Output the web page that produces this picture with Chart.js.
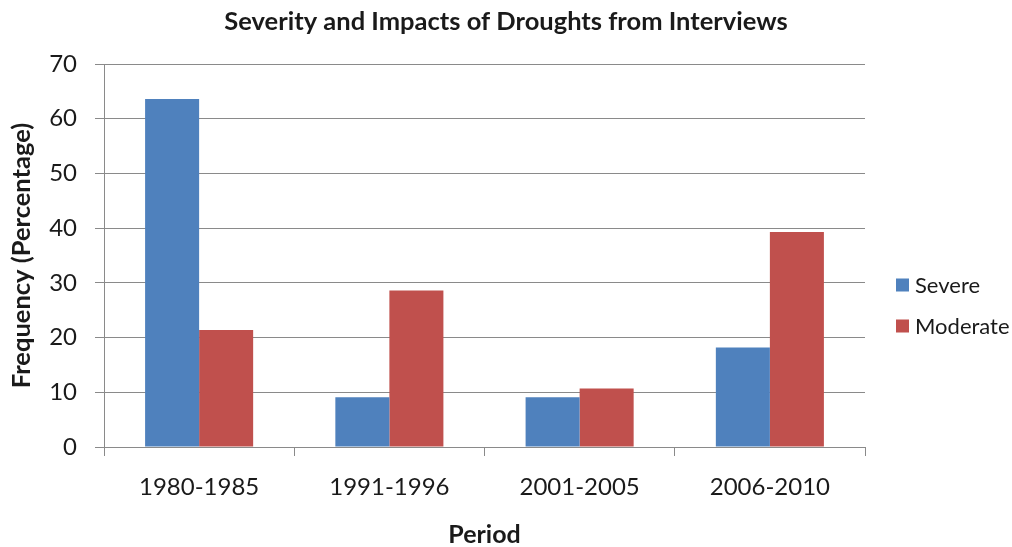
<!DOCTYPE html>
<html>
<head>
<meta charset="utf-8">
<script src="https://cdn.jsdelivr.net/npm/chart.js@4.4.1/dist/chart.umd.min.js"></script>
<style>
  html, body { margin: 0; padding: 0; background: #fff; }
  #wrap { width: 1012px; height: 547px; }
</style>
</head>
<body>
<div id="wrap"><canvas id="c" width="1012" height="547"></canvas></div>
<script>
// Drought periods and the share of interviewees reporting each severity (%)
const periods = ['1980-1985', '1991-1996', '2001-2005', '2006-2010'];
const severe = [63.6, 9.1, 9.1, 18.2];
const moderate = [21.4, 28.6, 10.7, 39.3];
const yTicks = [0, 10, 20, 30, 40, 50, 60, 70];

const FONT = 'Lato, "Open Sans", sans-serif';
const TEXT = '#1a1a1a';
const GRID = '#8a8a8a';

// Legend drawn beside the plot, stacked vertically
const sideLegend = {
  id: 'sideLegend',
  afterDraw(chart) {
    const ctx = chart.ctx;
    const x = 896, ys = [285, 326], box = 13;
    ctx.save();
    ctx.font = '22px ' + FONT;
    ctx.textBaseline = 'middle';
    ctx.textAlign = 'left';
    chart.data.datasets.forEach((ds, i) => {
      ctx.fillStyle = ds.backgroundColor;
      ctx.fillRect(x, ys[i] - box / 2, box, box);
      ctx.fillStyle = TEXT;
      ctx.fillText(ds.label, x + box + 6, ys[i] + 1);
    });
    ctx.restore();
  }
};

new Chart(document.getElementById('c'), {
  type: 'bar',
  data: {
    labels: periods,
    datasets: [
      { label: 'Severe', data: severe, backgroundColor: '#4F81BD' },
      { label: 'Moderate', data: moderate, backgroundColor: '#C0504D' }
    ]
  },
  options: {
    responsive: false,
    animation: false,
    devicePixelRatio: 1,
    layout: { padding: 0 },
    datasets: { bar: { categoryPercentage: 0.568, barPercentage: 1.0 } },
    plugins: {
      legend: { display: false },
      tooltip: { enabled: false },
      title: {
        display: true,
        text: 'Severity and Impacts of Droughts from Interviews',
        color: TEXT,
        font: { family: FONT, size: 25.5, weight: 'bold', lineHeight: 1.2 },
        padding: { top: 6, bottom: 27.4 }
      }
    },
    scales: {
      x: {
        afterFit(scale) { scale.height = 100; },
        border: { display: true, color: GRID, width: 1 },
        grid: { drawOnChartArea: false, drawTicks: true, tickLength: 9, color: GRID, offset: true },
        ticks: { color: TEXT, font: { family: FONT, size: 24 }, padding: 17 },
        title: {
          display: true, text: 'Period', color: TEXT,
          font: { family: FONT, size: 25, weight: 'bold', lineHeight: 1 },
          padding: { top: 0, bottom: 0 }
        }
      },
      y: {
        min: 0, max: 70,
        afterFit(scale) { scale.width = 104; },
        afterBuildTicks(scale) { scale.ticks = yTicks.map(v => ({ value: v })); },
        border: { display: true, color: GRID, width: 1 },
        grid: { drawTicks: true, tickLength: 9, color: GRID },
        ticks: { color: TEXT, font: { family: FONT, size: 24 }, padding: 18 },
        title: {
          display: true, text: 'Frequency (Percentage)', color: TEXT,
          font: { family: FONT, size: 25.5, weight: 'bold', lineHeight: 1 },
          padding: { top: 9, bottom: 0 }
        }
      },
      // empty right-hand gutter that holds the legend
      gutter: {
        type: 'linear',
        position: 'right',
        display: true,
        afterFit(scale) { scale.width = 147; },
        grid: { display: false },
        border: { display: false },
        ticks: { display: false }
      }
    }
  },
  plugins: [sideLegend]
});
</script>
</body>
</html>
